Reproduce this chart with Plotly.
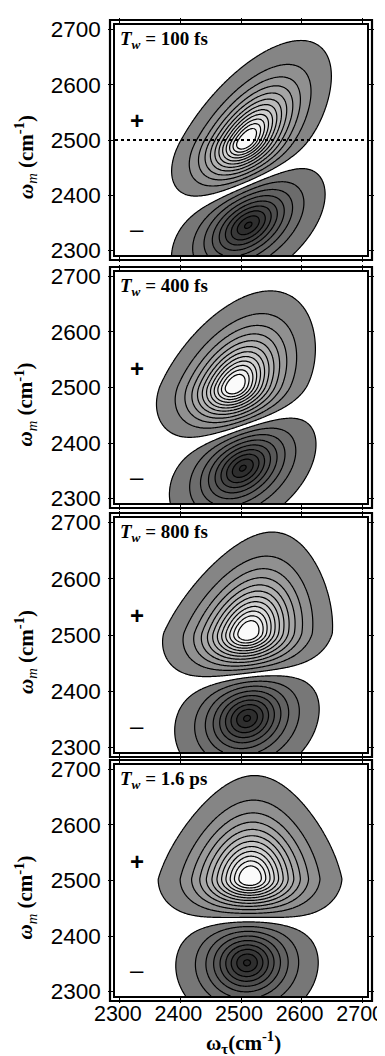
import numpy as np
import plotly.graph_objects as go

# page body has an 8px margin: shift all pixel coords by it
OFF = 8
W, H = 392 - OFF, 1056 - OFF

# ---------------- data: axis / labels ----------------
tick_vals = [2300, 2400, 2500, 2600, 2700]
tick_text = ["2300", "2400", "2500", "2600", "2700"]
panel_labels = ["100 fs", "400 fs", "800 fs", "1.6 ps"]

# ---------------- data: peak-shape parameters (cm-1) ----
# positive (0-1) band: centre, centre-line slope, half-extents of the outer contour
pos_cx = [2508, 2490, 2512, 2515]
pos_cy = [2498, 2502, 2503, 2503]
pos_slope = [0.5, 0.34, 0.22, 0.04]       # d(w_tau)/d(w_m) of the centre line
pos_ext_x = [108, 124, 140, 152]          # half-extent along w_tau
pos_ext_up = [182, 172, 180, 186]         # extent along w_m above centre
pos_ext_dn = [118, 112, 105, 100]         # extent along w_m below centre
pos_taper = [0.0, 0.05, 0.14, 0.16]       # narrowing of w_tau width per 100 cm-1 upward
# negative (1-2) band
neg_amp = [0.66, 0.66, 0.66, 0.66]
neg_cx = [2512, 2503, 2510, 2510]
neg_cy = [2346, 2355, 2352, 2352]
neg_slope = [0.5, 0.4, 0.18, 0.03]
neg_ext_x = [112, 112, 118, 118]
neg_ext_y = [120, 118, 115, 112]

# contour levels (fraction of positive maximum) and line-shape exponent
level_step = 0.075
n_levels = 12
shape_p = 1.5

# ---------------- layout (pixels in the 385x1056 page) ----------------
x_left, x_right = 115, 367
panel_tops = [25, 272, 518, 765]
panel_bots = [255, 503, 752, 996]
ax_range = [2292, 2708]

grid = np.arange(2292, 2709, 2.0)
X, Y = np.meshgrid(grid, grid)


def r_at(level):
    return (-2 * np.log(level)) ** (1 / shape_p)


def band(cx, cy, slope, ex, ey_up, ey_dn, taper, rout):
    dy = Y - cy
    sy = np.where(dy > 0, ey_up, ey_dn) / rout
    sx = ex / rout * np.clip(1 - taper * np.clip(dy, 0, None) / 100.0, 0.3, None)
    dx = X - cx - slope * dy
    q = (dx / sx) ** 2 + (dy / sy) ** 2
    return np.exp(-0.5 * q ** (shape_p / 2))


lev0 = level_step / 2
start = -(lev0 + level_step * (n_levels - 1))
end = -start
vmax = end + level_step / 2
colorscale = []
for k in range(-n_levels, n_levels + 1):
    v = k * level_step
    f = (v + vmax) / (2 * vmax)
    if k == 0:
        g = 255
    elif k > 0:
        g = int(round(133 + (250 - 133) * (k - 1) / (n_levels - 1)))
    else:
        g = int(round(max(38, 119 - 10.5 * (-k - 1))))
    colorscale.append([min(max(f, 0), 1), f"rgb({g},{g},{g})"])

fig = go.Figure()
layout = dict(template="none", width=W, height=H, margin=dict(l=0, r=0, t=0, b=0, pad=0),
              paper_bgcolor="white", plot_bgcolor="white", showlegend=False)
shapes, annotations = [], []

tick_font = dict(family="Liberation Sans, Arial", size=22.5, color="black")
xtick_font = dict(family="Liberation Sans, Arial", size=21.5, color="black")
serif = "Liberation Serif, Times New Roman"


def px(x):
    return (x - OFF) / W


def py(y):
    return 1 - (y - OFF) / H


for i in range(4):
    n = i + 1
    xa = "x" if n == 1 else f"x{n}"
    ya = "y" if n == 1 else f"y{n}"
    z = band(pos_cx[i], pos_cy[i], pos_slope[i], pos_ext_x[i], pos_ext_up[i], pos_ext_dn[i],
             pos_taper[i], r_at(lev0)) \
        - neg_amp[i] * band(neg_cx[i], neg_cy[i], neg_slope[i], neg_ext_x[i], neg_ext_y[i],
                            neg_ext_y[i], 0.0, r_at(lev0 / neg_amp[i]))
    fig.add_trace(go.Contour(
        x=grid, y=grid, z=np.round(z, 4), xaxis=xa, yaxis=ya,
        autocontour=False,
        contours=dict(start=start, end=end, size=level_step, coloring="fill"),
        colorscale=colorscale, showscale=False,
        line=dict(color="black", width=1.2), hoverinfo="skip"))

    top, bot = panel_tops[i], panel_bots[i]
    h = bot - top
    xkey = "xaxis" if n == 1 else f"xaxis{n}"
    ykey = "yaxis" if n == 1 else f"yaxis{n}"
    common = dict(range=ax_range, automargin=False, tickvals=tick_vals, ticktext=tick_text,
                  ticks="outside", ticklen=5, tickwidth=1, tickcolor="black", showline=True,
                  linecolor="black", linewidth=1.5, mirror="ticks", showgrid=False,
                  zeroline=False, ticklabeloverflow="allow")
    layout[xkey] = dict(domain=[px(x_left), px(x_right)], anchor=ya, tickfont=xtick_font,
                        showticklabels=(n == 4), ticklabelstandoff=-8, ticklabelshift=-2,
                        **common)
    layout[ykey] = dict(domain=[py(bot), py(top)], anchor=xa, tickfont=tick_font,
                        ticklabelstandoff=3, **common)
    # outer frame
    shapes.append(dict(type="rect", xref=f"{xa} domain", yref=f"{ya} domain",
                       x0=-5 / (x_right - x_left), x1=1 + 5 / (x_right - x_left),
                       y0=-5 / h, y1=1 + 5 / h, line=dict(color="black", width=2.2)))
    # panel label
    annotations.append(dict(xref="paper", yref="paper", x=px(118), y=py(top + 15),
                            xanchor="left", yanchor="middle", showarrow=False,
                            text=f"<b><i>T</i><sub><i>w</i></sub> = {panel_labels[i]}</b>",
                            font=dict(family=serif, size=19, color="black")))
    # signs
    annotations.append(dict(xref=xa, yref=ya, x=2328, y=2535, showarrow=False,
                            text="<b>+</b>", font=dict(family="Liberation Sans, Arial", size=24, color="black")))
    annotations.append(dict(xref=xa, yref=ya, x=2328, y=2340, showarrow=False,
                            text="\u2013", font=dict(family="Liberation Sans, Arial", size=24, color="black")))
    # y title
    annotations.append(dict(xref="paper", yref="paper", x=px(25), y=py((top + bot) / 2 + 17),
                            xanchor="center", yanchor="middle", showarrow=False, textangle=-90,
                            text="<b><i>\u03c9</i></b><sub><i>m</i></sub><b> (cm<sup>-1</sup>)</b>",
                            font=dict(family=serif, size=21, color="black")))

# dotted line in first panel
shapes.append(dict(type="line", xref="x domain", yref="y", x0=0, x1=1, y0=2500, y1=2500,
                   line=dict(color="black", width=2, dash="dot")))
# x title
annotations.append(dict(xref="paper", yref="paper", x=px(243), y=py(1042),
                        xanchor="center", yanchor="middle", showarrow=False,
                        text="<b>\u03c9<sub>\u03c4</sub>(cm<sup>-1</sup>)</b>",
                        font=dict(family=serif, size=21, color="black")))

layout["shapes"] = shapes
layout["annotations"] = annotations
fig.update_layout(**layout)
fig.write_html("out.html")
